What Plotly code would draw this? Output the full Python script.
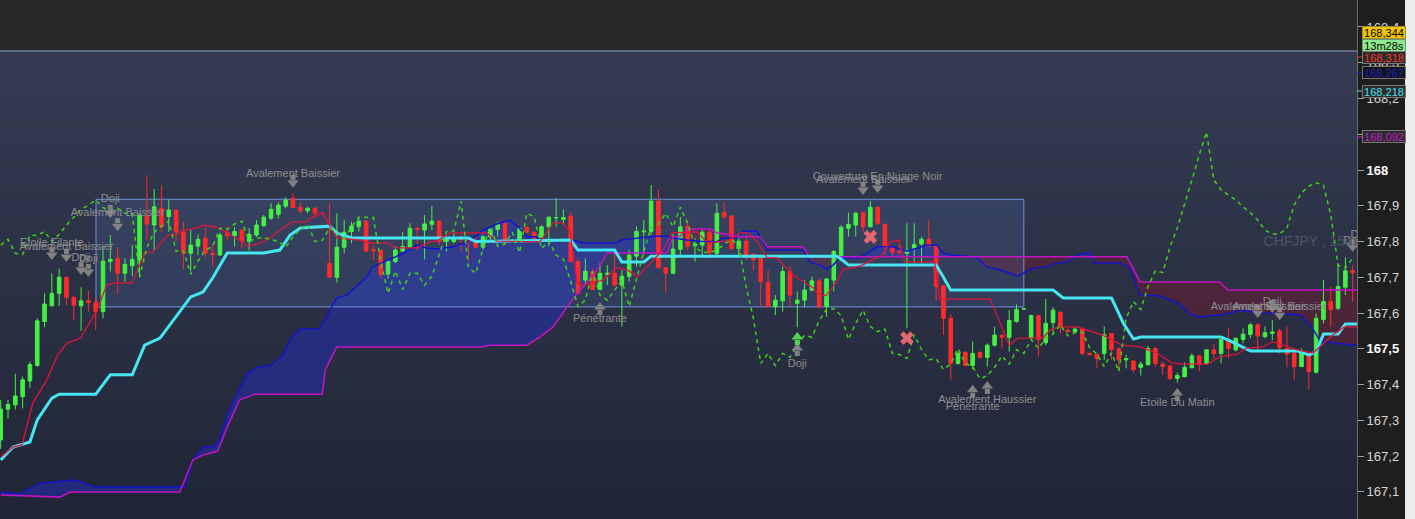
import numpy as np
import plotly.graph_objects as go

# ---------------- data ----------------
opens = [
167.245, 167.331, 167.343, 167.366, 167.410, 167.453, 167.576, 167.620, 167.655, 167.700,
167.644, 167.620, 167.634, 167.629, 167.604, 167.744, 167.753, 167.711, 167.732, 167.748,
167.871, 167.846, 167.893, 167.870, 167.888, 167.827, 167.767, 167.787, 167.809, 167.767,
167.762, 167.825, 167.816, 167.832, 167.800, 167.818, 167.844, 167.865, 167.876, 167.899,
167.921, 167.896, 167.886, 167.893, 167.879, 167.739, 167.700, 167.784, 167.828, 167.841,
167.857, 167.777, 167.776, 167.709, 167.744, 167.773, 167.784, 167.837, 167.832, 167.848,
167.857, 167.800, 167.800, 167.809, 167.806, 167.800, 167.784, 167.813, 167.834, 167.851,
167.801, 167.802, 167.840, 167.826, 167.812, 167.841, 167.866, 167.862, 167.871, 167.744,
167.692, 167.716, 167.666, 167.708, 167.711, 167.678, 167.702, 167.759, 167.827, 167.828,
167.913, 167.727, 167.711, 167.778, 167.843, 167.788, 167.790, 167.826, 167.767, 167.881,
167.871, 167.780, 167.801, 167.764, 167.753, 167.686, 167.618, 167.634, 167.716, 167.627,
167.636, 167.664, 167.690, 167.618, 167.692, 167.748, 167.837, 167.846, 167.882, 167.841,
167.896, 167.848, 167.784, 167.773, 167.767, 167.781, 167.793, 167.806, 167.787, 167.676,
167.585, 167.459, 167.490, 167.453, 167.490, 167.476, 167.510, 167.538, 167.532, 167.576,
167.611, 167.531, 167.593, 167.517, 167.573, 167.602, 167.552, 167.548, 167.557, 167.487,
167.484, 167.487, 167.543, 167.500, 167.469, 167.466, 167.448, 167.455, 167.501, 167.457,
167.452, 167.417, 167.422, 167.447, 167.480, 167.459, 167.497, 167.487, 167.524, 167.497,
167.526, 167.540, 167.567, 167.534, 167.543, 167.550, 167.501, 167.487, 167.450, 167.483,
167.434, 167.582, 167.632, 167.613, 167.672, 167.718]

highs = [
167.357, 167.357, 167.430, 167.422, 167.464, 167.585, 167.655, 167.711, 167.724, 167.700,
167.646, 167.672, 167.662, 167.643, 167.787, 167.818, 167.784, 167.753, 167.790, 167.879,
167.986, 167.947, 167.958, 167.916, 167.888, 167.855, 167.832, 167.820, 167.841, 167.793,
167.825, 167.840, 167.841, 167.834, 167.837, 167.860, 167.874, 167.907, 167.910, 167.924,
167.935, 167.909, 167.897, 167.897, 167.881, 167.907, 167.879, 167.860, 167.855, 167.869,
167.860, 167.790, 167.777, 167.748, 167.786, 167.826, 167.851, 167.840, 167.874, 167.899,
167.860, 167.813, 167.823, 167.818, 167.809, 167.813, 167.818, 167.837, 167.855, 167.855,
167.806, 167.840, 167.843, 167.828, 167.846, 167.870, 167.921, 167.890, 167.883, 167.753,
167.753, 167.725, 167.739, 167.734, 167.767, 167.720, 167.776, 167.843, 167.860, 167.958,
167.944, 167.728, 167.821, 167.869, 167.858, 167.809, 167.832, 167.832, 167.907, 167.909,
167.874, 167.818, 167.818, 167.767, 167.753, 167.720, 167.650, 167.730, 167.730, 167.660,
167.692, 167.702, 167.697, 167.697, 167.776, 167.846, 167.881, 167.883, 167.883, 167.913,
167.896, 167.851, 167.787, 167.804, 167.851, 167.851, 167.813, 167.860, 167.790, 167.678,
167.597, 167.492, 167.492, 167.520, 167.492, 167.515, 167.562, 167.538, 167.608, 167.624,
167.614, 167.596, 167.594, 167.639, 167.616, 167.604, 167.557, 167.560, 167.557, 167.490,
167.487, 167.562, 167.543, 167.504, 167.483, 167.466, 167.464, 167.508, 167.504, 167.464,
167.455, 167.433, 167.462, 167.487, 167.483, 167.498, 167.513, 167.529, 167.557, 167.532,
167.557, 167.573, 167.571, 167.562, 167.580, 167.557, 167.562, 167.497, 167.501, 167.485,
167.599, 167.692, 167.674, 167.739, 167.756, 167.734]

lows = [
167.220, 167.305, 167.330, 167.333, 167.390, 167.450, 167.560, 167.620, 167.620, 167.621,
167.580, 167.550, 167.604, 167.552, 167.585, 167.716, 167.652, 167.688, 167.703, 167.700,
167.804, 167.776, 167.827, 167.827, 167.800, 167.722, 167.716, 167.762, 167.756, 167.730,
167.760, 167.804, 167.786, 167.780, 167.774, 167.813, 167.841, 167.860, 167.865, 167.893,
167.895, 167.879, 167.879, 167.865, 167.877, 167.700, 167.685, 167.767, 167.795, 167.828,
167.772, 167.748, 167.697, 167.697, 167.739, 167.772, 167.781, 167.776, 167.750, 167.832,
167.790, 167.772, 167.795, 167.772, 167.744, 167.781, 167.776, 167.804, 167.813, 167.797,
167.799, 167.800, 167.823, 167.804, 167.809, 167.786, 167.841, 167.846, 167.744, 167.655,
167.678, 167.664, 167.664, 167.678, 167.674, 167.562, 167.688, 167.730, 167.762, 167.818,
167.723, 167.657, 167.709, 167.758, 167.776, 167.744, 167.762, 167.753, 167.762, 167.862,
167.776, 167.762, 167.748, 167.720, 167.618, 167.618, 167.594, 167.604, 167.618, 167.560,
167.616, 167.660, 167.613, 167.590, 167.660, 167.744, 167.814, 167.814, 167.828, 167.840,
167.846, 167.762, 167.758, 167.762, 167.557, 167.739, 167.739, 167.786, 167.634, 167.538,
167.414, 167.455, 167.450, 167.442, 167.473, 167.450, 167.506, 167.501, 167.492, 167.573,
167.609, 167.529, 167.478, 167.510, 167.543, 167.543, 167.543, 167.543, 167.482, 167.480,
167.445, 167.469, 167.469, 167.441, 167.445, 167.433, 167.425, 167.455, 167.450, 167.427,
167.414, 167.405, 167.420, 167.445, 167.436, 167.455, 167.473, 167.459, 167.473, 167.492,
167.515, 167.529, 167.497, 167.529, 167.524, 167.487, 167.448, 167.413, 167.450, 167.386,
167.431, 167.571, 167.562, 167.608, 167.650, 167.632]

closes = [
167.331, 167.344, 167.368, 167.413, 167.456, 167.578, 167.625, 167.655, 167.700, 167.644,
167.622, 167.634, 167.629, 167.604, 167.745, 167.750, 167.711, 167.736, 167.750, 167.874,
167.849, 167.897, 167.841, 167.888, 167.827, 167.767, 167.790, 167.806, 167.767, 167.763,
167.818, 167.817, 167.828, 167.800, 167.820, 167.846, 167.868, 167.890, 167.902, 167.916,
167.895, 167.886, 167.893, 167.879, 167.878, 167.700, 167.784, 167.826, 167.843, 167.857,
167.773, 167.774, 167.708, 167.745, 167.776, 167.786, 167.837, 167.834, 167.849, 167.857,
167.801, 167.809, 167.811, 167.806, 167.800, 167.784, 167.813, 167.834, 167.848, 167.800,
167.803, 167.837, 167.826, 167.809, 167.841, 167.868, 167.867, 167.867, 167.744, 167.655,
167.717, 167.666, 167.711, 167.711, 167.678, 167.703, 167.762, 167.828, 167.829, 167.913,
167.727, 167.711, 167.779, 167.841, 167.787, 167.793, 167.826, 167.769, 167.879, 167.869,
167.780, 167.801, 167.762, 167.750, 167.688, 167.618, 167.636, 167.716, 167.650, 167.636,
167.664, 167.690, 167.618, 167.695, 167.772, 167.840, 167.848, 167.879, 167.841, 167.896,
167.851, 167.784, 167.770, 167.769, 167.776, 167.792, 167.806, 167.787, 167.674, 167.585,
167.459, 167.487, 167.453, 167.487, 167.476, 167.510, 167.538, 167.532, 167.579, 167.610,
167.612, 167.593, 167.526, 167.571, 167.608, 167.562, 167.548, 167.555, 167.487, 167.484,
167.473, 167.539, 167.498, 167.469, 167.472, 167.442, 167.457, 167.501, 167.459, 167.450,
167.416, 167.425, 167.448, 167.480, 167.457, 167.497, 167.487, 167.526, 167.501, 167.529,
167.541, 167.567, 167.536, 167.545, 167.547, 167.503, 167.485, 167.450, 167.489, 167.436,
167.585, 167.632, 167.610, 167.674, 167.718, 167.713]

# closes of the 26 candles after the visible window (only seen through the lagging line)
closes_after_window = [
167.785, 167.838, 167.902, 167.972, 168.042, 168.106, 167.972, 167.944, 167.930, 167.916,
167.897, 167.880, 167.860, 167.832, 167.821, 167.821, 167.838, 167.902, 167.936, 167.955,
167.964, 167.958, 167.874, 167.734, 167.726, 167.754]
LAG = 26

tenkan_pts = [
(0, 167.197), (1.7, 167.225), (2.9, 167.231), (4.4, 167.348), (6.3, 167.413), (7.8, 167.483),
(9.1, 167.516), (10.9, 167.530), (13.2, 167.608), (14.5, 167.678), (15.9, 167.684), (18, 167.684),
(19.7, 167.768), (20.8, 167.771), (22.9, 167.818), (23.9, 167.818), (24.8, 167.829), (27.3, 167.841),
(27.7, 167.846), (30, 167.838), (31.4, 167.818), (32.7, 167.804), (33.8, 167.787), (35.2, 167.793),
(36.8, 167.810), (38.2, 167.832), (39.9, 167.855), (41.9, 167.855), (42.7, 167.869), (44, 167.880),
(44.4, 167.866), (46, 167.810), (49.2, 167.804), (50.5, 167.796), (53, 167.796), (54, 167.782),
(57, 167.782), (58.7, 167.799), (59.7, 167.801), (61.5, 167.824), (66.5, 167.824), (67.9, 167.801),
(73.8, 167.799), (74.8, 167.827), (75.6, 167.852), (76.9, 167.852), (77.9, 167.827), (78.9, 167.684),
(79.7, 167.678), (80.9, 167.684), (82.4, 167.692), (84.3, 167.726), (85.8, 167.720), (87.1, 167.701),
(88.4, 167.729), (89.3, 167.748), (90.6, 167.776), (91.9, 167.824), (93.9, 167.827), (95.3, 167.827),
(96.7, 167.796), (98, 167.799), (99.1, 167.801), (100.2, 167.810), (101.2, 167.824), (102.3, 167.824),
(103.5, 167.799), (104.9, 167.754), (106.2, 167.754), (108.4, 167.706), (109.8, 167.687), (111.2, 167.670),
(111.7, 167.656), (112.9, 167.648), (114.4, 167.687), (115.3, 167.723), (116.6, 167.726), (117.9, 167.734),
(119.2, 167.748), (120.6, 167.762), (121.7, 167.799), (122.9, 167.804), (123.7, 167.743), (127.8, 167.743),
(128.5, 167.639), (135.4, 167.639), (138, 167.510), (139.2, 167.530), (142.6, 167.530), (143.6, 167.552),
(144.7, 167.561), (147.3, 167.561), (150.8, 167.538), (153.4, 167.510), (155.9, 167.505), (158.2, 167.488),
(160.3, 167.460), (161.8, 167.457), (165.1, 167.457), (166.8, 167.477), (169.2, 167.485), (170.5, 167.502),
(172.7, 167.505), (174, 167.519), (175.5, 167.510), (177.4, 167.497), (179.6, 167.488), (180.8, 167.510),
(182.2, 167.538), (183.9, 167.561), (185.6, 167.561)]

kijun_pts = [
(0, 167.189), (1.7, 167.225), (4, 167.239), (5, 167.301), (7, 167.362), (8, 167.373), (13, 167.373),
(15, 167.427), (18, 167.427), (19.7, 167.510), (21.8, 167.530), (25, 167.617), (26, 167.645),
(27.7, 167.659), (29, 167.698), (31, 167.768), (36, 167.768), (38.2, 167.776), (39.6, 167.818),
(41, 167.838), (45, 167.843), (46, 167.824), (48, 167.810), (64, 167.810), (65, 167.800), (78, 167.804),
(79, 167.776), (84, 167.776), (85, 167.743), (88, 167.743), (89, 167.759), (114.4, 167.759),
(115, 167.751), (116, 167.734), (128, 167.734), (129, 167.700), (130, 167.664), (144, 167.664),
(145.4, 167.642), (152, 167.642), (153.6, 167.572), (155, 167.527), (156, 167.533), (167, 167.533),
(168, 167.524), (171, 167.494), (177.4, 167.494), (179, 167.483), (180, 167.491), (181, 167.541),
(183, 167.541), (184, 167.569), (185.6, 167.569)]

span_a_pts = [
(0, 167.099), (2.6, 167.094), (5.4, 167.124), (10.2, 167.133), (12.9, 167.113), (25.2, 167.113),
(26.3, 167.189), (27.7, 167.225), (29.1, 167.225), (30, 167.248), (31, 167.315), (32.7, 167.390),
(33.8, 167.432), (35.2, 167.449), (36.8, 167.452), (38.2, 167.474), (38.6, 167.483), (39.9, 167.533),
(41, 167.555), (43.7, 167.555), (45.3, 167.617), (46, 167.642), (47.4, 167.650), (48.5, 167.670),
(50.1, 167.701), (50.9, 167.729), (52.9, 167.748), (54.9, 167.765), (56, 167.779), (57, 167.790),
(58.3, 167.782), (59.7, 167.779), (61.9, 167.785), (63.8, 167.799), (65.2, 167.818), (66, 167.832),
(67.9, 167.849), (69.7, 167.860), (70.8, 167.841), (71.5, 167.824), (72, 167.813), (73.4, 167.813),
(73.8, 167.804), (77.9, 167.804), (79.9, 167.796), (84.3, 167.796), (85, 167.804), (89.3, 167.815),
(91.2, 167.815), (92, 167.810), (93.9, 167.804), (95.7, 167.801), (98, 167.799), (98.8, 167.810),
(100.8, 167.810), (101.6, 167.829), (103.5, 167.829), (104.9, 167.776), (109.8, 167.776),
(110.7, 167.743), (112.1, 167.734), (113.1, 167.723), (113.9, 167.734), (114.8, 167.754),
(117.6, 167.754), (119.9, 167.785), (122.1, 167.785), (124, 167.773), (125.1, 167.779),
(126.8, 167.790), (128.1, 167.790), (128.9, 167.768), (129.9, 167.762), (132.2, 167.759),
(133.6, 167.754), (134.9, 167.729), (136.3, 167.723), (138.1, 167.712), (139.1, 167.703),
(139.9, 167.712), (141.3, 167.726), (143.2, 167.729), (144, 167.737), (145.9, 167.743),
(147.7, 167.765), (149.1, 167.768), (149.7, 167.740), (153.2, 167.740), (154.5, 167.726),
(155.9, 167.650), (158.6, 167.648), (161, 167.628), (163, 167.595), (164.1, 167.589),
(167.8, 167.597), (169.6, 167.608), (172.7, 167.600), (177.8, 167.595), (179.2, 167.566),
(180.5, 167.524), (182.3, 167.516), (185.6, 167.510)]

span_b_pts = [
(0, 167.091), (8.1, 167.085), (9.5, 167.099), (24.5, 167.099), (26.3, 167.189), (27.7, 167.203),
(29.7, 167.214), (31, 167.281), (32.7, 167.357), (34.8, 167.373), (44, 167.373), (44.4, 167.441),
(46, 167.505), (65.6, 167.505), (67, 167.510), (72, 167.510), (73.8, 167.533), (75.6, 167.561),
(77.5, 167.617), (78.9, 167.656), (80.2, 167.684), (81.6, 167.720), (83, 167.768), (91.2, 167.768),
(92, 167.813), (93, 167.815), (93.9, 167.835), (97.1, 167.835), (98, 167.824), (100.2, 167.818),
(101.2, 167.813), (103.9, 167.813), (104.9, 167.785), (109.8, 167.785), (110.7, 167.757),
(154.1, 167.757), (155.9, 167.687), (166.8, 167.687), (167.9, 167.664), (185.6, 167.664)]

pattern_idx = [7, 9, 11, 12, 15, 16, 40, 118, 120, 172, 174, 175, 185, 186, 82, 109, 133, 135, 161]
pattern_tip = [167.748, 167.743, 167.706, 167.701, 167.866, 167.829, 167.950, 167.930, 167.936,
               167.586, 167.600, 167.580, 167.771, 167.771, 167.631, 167.516, 167.399, 167.410, 167.390]
pattern_label_y = [167.796, 167.785, 167.754, 167.751, 167.919, 167.880, 167.989, 167.972, 167.980,
                   167.617, 167.631, 167.617, 167.801, 167.818, 167.583, 167.457, 167.337, 167.357, 167.348]
pattern_names = ["Etoile Filante", "Avalement Baissier", "Doji", "Doji", "Doji", "Avalement Baissier",
                 "Avalement Baissier", "Avalement Baissier", "Couverture En Nuage Noir",
                 "Avalement Baissier", "Doji", "Avalement Baissier", "Doji", "Doji",
                 "Pénétrante", "Doji", "Pénétrante", "Avalement Haussier", "Etoile Du Matin"]
pattern_dir = [-1] * 14 + [1] * 5      # -1 bearish (arrow down), 1 bullish (arrow up)

signal_idx = [109]
signal_tip = [167.547]
cross_idx = [119, 124]
cross_price = [167.813, 167.530]

zone_idx = [13.04, 140.0]
zone_price = [167.617, 167.918]

y_ticks = [167.1, 167.2, 167.3, 167.4, 167.5, 167.6, 167.7, 167.8, 167.9, 168.0, 168.1, 168.2, 168.3, 168.4]
tag_texts = ["168,344", "13m28s", "168,318", "168,267", "168,218", "168,092"]
symbol_text = "CHFJPY , 15m"

# ---------------- layout constants ----------------
W, H = 1415, 519
PLOT_W = 1357
Y_MIN, Y_MAX = 167.0238, 168.4755
X_MIN, X_MAX = -0.096, 185.59
PPX = (Y_MAX - Y_MIN) / H          # price units per pixel
TOP_PANE = 51

GREEN = "#45f045"
RED = "#ff2b2b"
FONT = "Arial, Liberation Sans, sans-serif"

n = len(opens)
assert len(highs) == n and len(lows) == n and len(closes) == n
idx = list(range(n))

shapes = []
# top pane
shapes.append(dict(type="rect", xref="paper", yref="paper", x0=0, x1=1,
                   y0=(H - TOP_PANE) / H, y1=1, fillcolor="#282828", line=dict(width=0), layer="below"))
# gradient chart pane
nb = 40
c_top = np.array([54, 61, 82])
c_bot = np.array([33, 37, 56])
ytop = (H - TOP_PANE) / H
for k in range(nb):
    t = (k + 0.5) / nb
    c = (c_top * (1 - t) + c_bot * t).astype(int)
    shapes.append(dict(type="rect", xref="paper", yref="paper", x0=0, x1=1,
                       y0=ytop * (1 - (k + 1) / nb), y1=ytop * (1 - k / nb) + 0.0005,
                       fillcolor=f"rgb({c[0]},{c[1]},{c[2]})", line=dict(width=0), layer="below"))
shapes.append(dict(type="line", xref="paper", yref="paper", x0=0, x1=1, y0=ytop, y1=ytop,
                   line=dict(color="#8ea2c6", width=1)))

# ---- Ichimoku cloud fill (as shapes so candles stay on top) ----
ax = np.array([p[0] for p in span_a_pts]); ay = np.array([p[1] for p in span_a_pts])
bx = np.array([p[0] for p in span_b_pts]); by = np.array([p[1] for p in span_b_pts])
grid = np.union1d(ax, bx)
A = np.interp(grid, ax, ay)
B = np.interp(grid, bx, by)
gx, gA, gB = [grid[0]], [A[0]], [B[0]]
for k in range(1, len(grid)):
    d0 = A[k - 1] - B[k - 1]
    d1 = A[k] - B[k]
    if d0 * d1 < 0:
        tt = d0 / (d0 - d1)
        xc = grid[k - 1] + tt * (grid[k] - grid[k - 1])
        yc = A[k - 1] + tt * (A[k] - A[k - 1])
        gx.append(xc); gA.append(yc); gB.append(yc)
    gx.append(grid[k]); gA.append(A[k]); gB.append(B[k])
gx = np.array(gx); gA = np.array(gA); gB = np.array(gB)
upper = np.maximum(gA, gB)


def poly(xs, top, bottom):
    pts = [f"{x:.4f},{y:.5f}" for x, y in zip(xs, top)]
    pts += [f"{x:.4f},{y:.5f}" for x, y in zip(xs[::-1], bottom[::-1])]
    return "M" + " L".join(pts) + " Z"


shapes.append(dict(type="path", xref="x", yref="y", path=poly(gx, upper, gB),
                   fillcolor="rgba(35,45,185,0.50)", line=dict(width=0), layer="below"))
shapes.append(dict(type="path", xref="x", yref="y", path=poly(gx, upper, gA),
                   fillcolor="rgba(125,25,45,0.42)", line=dict(width=0), layer="below"))

# highlighted zone rectangle
shapes.append(dict(type="rect", xref="x", yref="y", x0=zone_idx[0], x1=zone_idx[1],
                   y0=zone_price[0], y1=zone_price[1], fillcolor="rgba(95,140,230,0.15)",
                   line=dict(color="#6f93dd", width=1), layer="below"))

# right side light strip
shapes.append(dict(type="rect", xref="paper", yref="paper", x0=1405 / PLOT_W, x1=1416 / PLOT_W,
                   y0=0, y1=1, fillcolor="#ededed", line=dict(width=0)))

fig = go.Figure()

# Ichimoku lines
fig.add_trace(go.Scatter(x=ax, y=ay, mode="lines", line=dict(color="#1414d0", width=1.5), hoverinfo="skip"))
fig.add_trace(go.Scatter(x=bx, y=by, mode="lines", line=dict(color="#c414c4", width=1.5), hoverinfo="skip"))
fig.add_trace(go.Scatter(x=[p[0] for p in kijun_pts], y=[p[1] for p in kijun_pts], mode="lines",
                         line=dict(color="#45e6f2", width=3), hoverinfo="skip"))
fig.add_trace(go.Scatter(x=[p[0] for p in tenkan_pts], y=[p[1] for p in tenkan_pts], mode="lines",
                         line=dict(color="#e0143c", width=1.3), hoverinfo="skip"))

# candles
fig.add_trace(go.Candlestick(
    x=idx, open=opens, high=highs, low=lows, close=closes,
    increasing=dict(line=dict(color=GREEN, width=1), fillcolor=GREEN),
    decreasing=dict(line=dict(color=RED, width=1), fillcolor=RED),
    whiskerwidth=0, hoverinfo="skip"))

# lagging span: close shifted back LAG periods
lag_vals = closes[LAG:] + closes_after_window
fig.add_trace(go.Scatter(x=list(range(len(lag_vals))), y=lag_vals, mode="lines",
                         line=dict(color="#3ed318", width=1.5, dash="4px,4px"), hoverinfo="skip"))

# pattern arrows
pidx = np.array(pattern_idx, dtype=float)
ptip = np.array(pattern_tip)
pdir = np.array(pattern_dir)
head_y = ptip - pdir * 5 * PPX
shaft_y = ptip - pdir * 10.5 * PPX
head_sym = ["triangle-up" if d > 0 else "triangle-down" for d in pattern_dir]
ARROW = "#828282"
fig.add_trace(go.Scatter(x=pidx, y=shaft_y, mode="markers",
                         marker=dict(symbol="square", size=5, color=ARROW, line=dict(width=0)), hoverinfo="skip"))
fig.add_trace(go.Scatter(x=pidx, y=head_y, mode="markers",
                         marker=dict(symbol=head_sym, size=10, color=ARROW, line=dict(width=0)), hoverinfo="skip"))
# green signal arrow
sig_tip = np.array(signal_tip)
fig.add_trace(go.Scatter(x=signal_idx, y=sig_tip - 10.5 * PPX, mode="markers",
                         marker=dict(symbol="square", size=5, color="#52d452", line=dict(width=0)), hoverinfo="skip"))
fig.add_trace(go.Scatter(x=signal_idx, y=sig_tip - 5 * PPX, mode="markers",
                         marker=dict(symbol="triangle-up", size=10, color="#52d452", line=dict(width=0)), hoverinfo="skip"))

# pattern labels
fig.add_trace(go.Scatter(x=pidx, y=pattern_label_y, mode="text", text=pattern_names,
                         textposition="middle center",
                         textfont=dict(family=FONT, size=11, color="#8e8e8e"), hoverinfo="skip"))

# exit crosses
fig.add_trace(go.Scatter(x=cross_idx, y=cross_price, mode="markers",
                         marker=dict(symbol="x", size=12, color="rgba(240,105,112,0.95)", line=dict(width=0)),
                         hoverinfo="skip"))

# symbol watermark
fig.add_trace(go.Scatter(x=[172.8], y=[167.796], mode="text", text=[symbol_text],
                         textposition="middle right",
                         textfont=dict(family=FONT, size=14, color="#4b5366"), hoverinfo="skip"))

# ---------------- axes ----------------
tick_text = []
for v in y_ticks:
    s = f"{v:.1f}".replace(".", ",")
    if s.endswith(",0"):
        s = s[:-2]
    if s in ("168", "167,5"):
        s = f"<b><span style='color:#ffffff'>{s}</span></b>"
    tick_text.append(s)

# price tags at right
tag_y_px = [32, 45, 57, 73, 91, 137]
tag_bg = ["#f4c400", "#8eea8e", "#2b2b2b", "#141414", "#2b2b2b", "#2b2b2b"]
tag_fg = ["#000000", "#000000", "#ff3030", "#2020c8", "#44e4f4", "#c81ec8"]
tag_border = ["#9a8a40", "#6a9a6a", "#777777", "#777777", "#777777", "#777777"]
tick_cols = [None, None, "#ff3030", "#2020c8", "#44e4f4", "#c81ec8"]
annotations = []
for txt, yp, bg, fg, bc, tc in zip(tag_texts, tag_y_px, tag_bg, tag_fg, tag_border, tick_cols):
    annotations.append(dict(xref="paper", yref="paper", x=1362 / PLOT_W, y=1 - yp / H,
                            xanchor="left", yanchor="middle", text=txt, showarrow=False,
                            font=dict(family=FONT, size=11, color=fg), bgcolor=bg,
                            bordercolor=bc, borderwidth=1, borderpad=0, width=42, height=11))
    if tc:
        shapes.append(dict(type="line", xref="paper", yref="paper", x0=1.0, x1=1362 / PLOT_W,
                           y0=1 - yp / H, y1=1 - yp / H, line=dict(color=tc, width=1)))

fig.update_layout(
    width=W, height=H,
    margin=dict(l=0, r=W - PLOT_W, t=0, b=0),
    paper_bgcolor="#1e1e1e", plot_bgcolor="#282828",
    showlegend=False, shapes=shapes, annotations=annotations,
    xaxis=dict(range=[X_MIN, X_MAX], visible=False, rangeslider=dict(visible=False),
               showgrid=False, zeroline=False, fixedrange=True),
    yaxis=dict(range=[Y_MIN, Y_MAX], side="right", tickvals=y_ticks, ticktext=tick_text,
               showgrid=False, zeroline=False, showline=True, linecolor="#6a6a6a", linewidth=1,
               ticks="outside", ticklen=6, tickcolor="#a0a0a0", automargin=False,
               tickfont=dict(family=FONT, size=13, color="#d6d6d6"), fixedrange=True),
    hovermode=False,
)

fig.write_html("out.html", config={"displayModeBar": False},
               post_script="document.body.style.margin='0';document.body.style.overflow='hidden';")
